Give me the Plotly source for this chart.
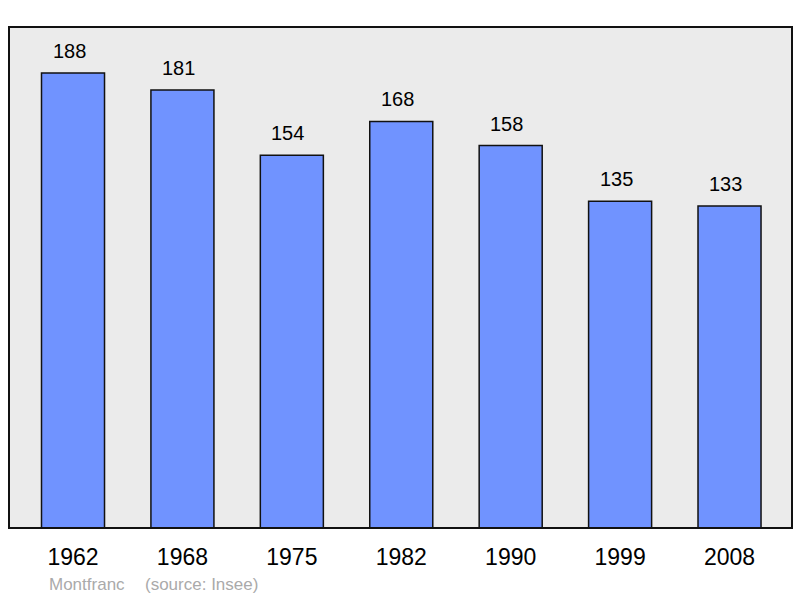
import plotly.graph_objects as go

years = ["1962", "1968", "1975", "1982", "1990", "1999", "2008"]
population = [188, 181, 154, 168, 158, 135, 133]
commune = "Montfranc"
source = "(source: Insee)"

FONT = "Liberation Sans, Arial, sans-serif"

fig = go.Figure()
fig.add_trace(go.Bar(
    x=list(range(len(years))), y=population,
    width=0.576,
    marker=dict(color="#7093ff", line=dict(color="#111111", width=1.5)),
    hoverinfo="skip",
))

for i, v in enumerate(population):
    fig.add_annotation(x=i, y=v, text=str(v), showarrow=False,
                       yanchor="middle", yshift=22, xshift=-4,
                       font=dict(family=FONT, size=20, color="#000"))

fig.add_shape(type="rect", xref="paper", yref="paper", x0=0, y0=0, x1=1, y1=1,
              line=dict(color="#111", width=2), layer="above")

fig.add_annotation(xref="paper", yref="paper", x=(47-9)/783, y=-(584-528)/501,
                   xanchor="left", yanchor="middle", showarrow=False, text=commune,
                   font=dict(family=FONT, size=17, color="#aaaaaa"))
fig.add_annotation(xref="paper", yref="paper", x=(143-9)/783, y=-(584-528)/501,
                   xanchor="left", yanchor="middle", showarrow=False, text=source,
                   font=dict(family=FONT, size=17, color="#aaaaaa"))

fig.update_layout(
    width=800, height=598,
    margin=dict(l=9, r=8, t=27, b=70),
    paper_bgcolor="#ffffff", plot_bgcolor="#ebebeb",
    showlegend=False,
    xaxis=dict(range=[-0.585, 6.571], showgrid=False, zeroline=False,
               tickmode="array", tickvals=list(range(len(years))), ticktext=years,
               showline=False, ticks="outside", ticklen=8, tickcolor="rgba(0,0,0,0)",
               tickfont=dict(family=FONT, size=23, color="#000")),
    yaxis=dict(range=[0, 207], showgrid=False, zeroline=False, showticklabels=False, showline=False),
)

fig.write_html("out.html", config={"displayModeBar": False},
               post_script="document.body.style.margin='0';document.body.style.overflow='hidden';")
